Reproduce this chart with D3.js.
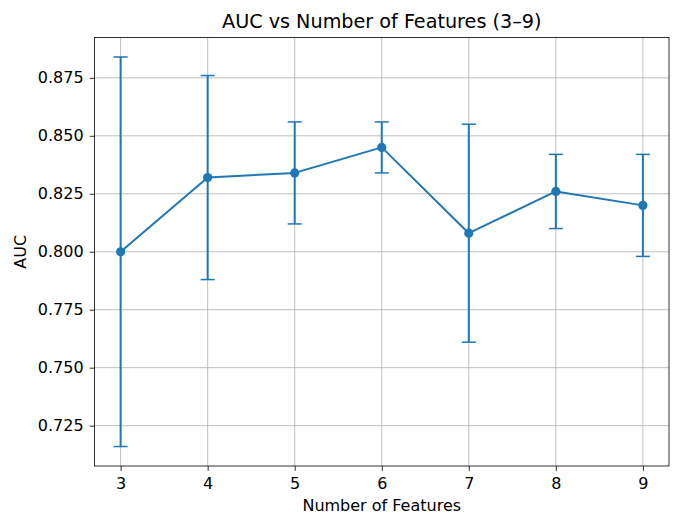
<!DOCTYPE html>
<html><head><meta charset="utf-8">
<script src="https://cdn.jsdelivr.net/npm/d3@7"></script>
<style>body{margin:0;background:#fff}text{font-family:"DejaVu Sans",sans-serif;fill:#000}</style>
</head><body><svg id="c" width="676" height="515"></svg>
<script>
const features = [3, 4, 5, 6, 7, 8, 9];
const aucMean = [0.800, 0.832, 0.834, 0.845, 0.808, 0.826, 0.820];
const aucErr  = [0.084, 0.044, 0.022, 0.011, 0.047, 0.016, 0.022];
const yTicks = [0.725, 0.750, 0.775, 0.800, 0.825, 0.850, 0.875];
const xTicks = [3, 4, 5, 6, 7, 8, 9];

const W = 676, H = 515;
const m = {l: 94.5, r: 669, t: 37.5, b: 466};
const svg = d3.select("#c");
const color = "#1f77b4";

const x = d3.scaleLinear().domain([2.7, 9.3]).range([m.l, m.r]);
const lo = d3.min(aucMean.map((v,i)=>v-aucErr[i])), hi = d3.max(aucMean.map((v,i)=>v+aucErr[i]));
const pad = (hi-lo)*0.05;
const y = d3.scaleLinear().domain([lo-pad, hi+pad]).range([m.b, m.t]);

// grid
const g = svg.append("g");
g.selectAll(".gx").data(xTicks).enter().append("line")
  .attr("x1", d=>x(d)).attr("x2", d=>x(d)).attr("y1", m.t).attr("y2", m.b)
  .attr("stroke", "#b0b0b0").attr("stroke-width", 0.8);
g.selectAll(".gy").data(yTicks).enter().append("line")
  .attr("y1", d=>y(d)).attr("y2", d=>y(d)).attr("x1", m.l).attr("x2", m.r)
  .attr("stroke", "#b0b0b0").attr("stroke-width", 0.8);

// axes
const xAxis = d3.axisBottom(x).tickValues(xTicks).tickSize(4.9).tickPadding(6.5).tickFormat(d3.format("d"));
const yAxis = d3.axisLeft(y).tickValues(yTicks).tickSize(4.9).tickPadding(6).tickFormat(d3.format(".3f"));
const ax = svg.append("g").attr("transform", `translate(0,${m.b})`).call(xAxis);
const ay = svg.append("g").attr("transform", `translate(${m.l},0)`).call(yAxis);
[ax, ay].forEach(a => {
  a.select(".domain").remove();
  a.selectAll(".tick line").attr("stroke", "#000").attr("stroke-width", 0.8);
  a.selectAll(".tick text").style("font-family", "DejaVu Sans").style("font-size", "16px").attr("fill", "#000");
});

// error bars
const eb = svg.append("g");
features.forEach((f, i) => {
  const cx = x(f), y1 = y(aucMean[i] - aucErr[i]), y2 = y(aucMean[i] + aucErr[i]);
  eb.append("line").attr("x1", cx).attr("x2", cx).attr("y1", y1).attr("y2", y2).attr("stroke", color).attr("stroke-width", 2);
  [y1, y2].forEach(yy => eb.append("line").attr("x1", cx-7).attr("x2", cx+7).attr("y1", yy).attr("y2", yy).attr("stroke", color).attr("stroke-width", 1.5));
});

// line
const line = d3.line().x((d,i)=>x(features[i])).y(d=>y(d));
svg.append("path").datum(aucMean).attr("d", line).attr("fill", "none").attr("stroke", color).attr("stroke-width", 2).attr("stroke-linejoin", "round");
svg.selectAll(".pt").data(aucMean).enter().append("circle")
  .attr("cx", (d,i)=>x(features[i])).attr("cy", d=>y(d)).attr("r", 4.6).attr("fill", color);

// spines
svg.append("rect").attr("x", m.l).attr("y", m.t).attr("width", m.r-m.l).attr("height", m.b-m.t)
  .attr("fill", "none").attr("stroke", "#000").attr("stroke-width", 0.8);

// labels
svg.append("text").attr("x", (m.l+m.r)/2).attr("y", 27.5).attr("text-anchor", "middle").style("font-size", "19.2px").text("AUC vs Number of Features (3–9)");
svg.append("text").attr("x", (m.l+m.r)/2).attr("y", 510.5).attr("text-anchor", "middle").style("font-size", "16px").text("Number of Features");
svg.append("text").attr("transform", `translate(25.5,${(m.t+m.b)/2}) rotate(-90)`).attr("text-anchor", "middle").style("font-size", "16px").text("AUC");
</script></body></html>
